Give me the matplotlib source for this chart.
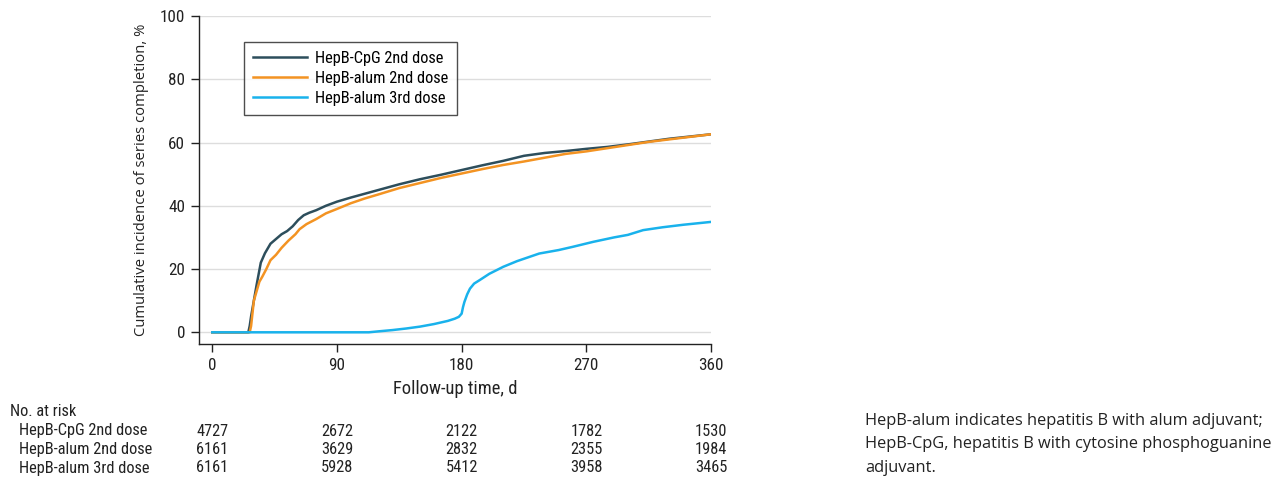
import matplotlib
matplotlib.use("Agg")
import matplotlib.pyplot as plt
from matplotlib.transforms import blended_transform_factory
from matplotlib import font_manager

names = {f.name for f in font_manager.fontManager.ttflist}
narrow = [n for n in ["Roboto Condensed", "Liberation Sans Narrow", "Open Sans Condensed"] if n in names]
COND = narrow + ['Liberation Sans', 'DejaVu Sans']
WIDE = ["Open Sans", "DejaVu Sans"]
plt.rcParams['font.family'] = COND

# ---- data ----
cpg_days = [0, 26, 27, 28, 30, 32, 35, 38, 42, 46, 50, 54, 58, 62, 66, 70, 75, 82, 90, 100,
            110, 120, 135, 150, 165, 180, 195, 210, 225, 240, 255, 270, 285, 300, 315, 330, 345, 360]
cpg_pct = [0, 0, 2, 5, 10, 15, 22, 25, 28, 29.5, 31, 32, 33.5, 35.5, 37, 37.8, 38.6, 40, 41.3, 42.6,
           43.8, 45, 46.8, 48.4, 49.8, 51.3, 52.8, 54.2, 55.8, 56.7, 57.3, 58, 58.6, 59.4, 60.3, 61.2, 61.9, 62.6]

alum2_days = [0, 27, 28, 29, 30, 32, 34, 36, 39, 42, 46, 50, 55, 60, 63, 68, 75, 82, 90, 100,
              110, 120, 135, 150, 165, 180, 195, 210, 225, 240, 255, 270, 285, 300, 315, 330, 345, 360]
alum2_pct = [0, 0, 2, 6, 10, 13, 16, 17.5, 20, 22.8, 24.5, 26.7, 29, 31, 32.6, 34.2, 35.8, 37.6, 39, 40.8,
             42.3, 43.6, 45.6, 47.2, 48.8, 50.2, 51.6, 52.9, 54, 55.2, 56.4, 57.2, 58.2, 59.2, 60.2, 61, 61.8, 62.6]

alum3_days = [0, 113, 120, 130, 140, 150, 160, 170, 175, 178, 180, 181, 182, 184, 186, 189, 193, 200,
              210, 220, 236, 250, 260, 275, 290, 300, 311, 325, 340, 360]
alum3_pct = [0, 0, 0.3, 0.7, 1.2, 1.8, 2.6, 3.6, 4.3, 4.9, 5.9, 8, 9.6, 12, 13.8, 15.4, 16.5, 18.5,
             20.7, 22.5, 24.9, 26, 27, 28.6, 30, 30.8, 32.3, 33.2, 34, 34.9]

series_labels = ["HepB-CpG 2nd dose", "HepB-alum 2nd dose", "HepB-alum 3rd dose"]
x_ticks = [0, 90, 180, 270, 360]
y_ticks = [0, 20, 40, 60, 80, 100]
at_risk = {
    "HepB-CpG 2nd dose": [4727, 2672, 2122, 1782, 1530],
    "HepB-alum 2nd dose": [6161, 3629, 2832, 2355, 1984],
    "HepB-alum 3rd dose": [6161, 5928, 5412, 3958, 3465],
}
caption = ("HepB-alum indicates hepatitis B with alum adjuvant;\n"
           "HepB-CpG, hepatitis B with cytosine phosphoguanine\n"
           "adjuvant.")

colors = ["#2D4E5C", "#F39322", "#19B2EC"]
TXT = "#222222"

W, H = 1287, 478
fig = plt.figure(figsize=(W / 100, H / 100), dpi=100)
renderer = fig.canvas.get_renderer()


def fit_size(s, target_px, family):
    t = fig.text(0, 0, s, fontsize=10, family=family)
    w = t.get_window_extent(renderer).width
    t.remove()
    return 10 * target_px / w


fs_tick = fit_size("180", 25, COND)
fs_xlab = fit_size("Follow-up time, d", 124, COND)
fs_ylab = fit_size("Cumulative incidence of series completion, %", 314, WIDE)
fs_leg = fit_size("HepB-CpG 2nd dose", 129, COND)
fs_tab = fs_leg
fs_cap = fit_size(caption.split("\n")[1], 408, WIDE)

ax = fig.add_axes([199 / W, 1 - 344 / H, (711 - 199) / W, (344 - 16) / H])

ax.plot(cpg_days, cpg_pct, color=colors[0], lw=1.8, label=series_labels[0], zorder=3)
ax.plot(alum2_days, alum2_pct, color=colors[1], lw=1.8, label=series_labels[1], zorder=3)
ax.plot(alum3_days, alum3_pct, color=colors[2], lw=1.8, label=series_labels[2], zorder=4)

ax.set_xlim(-9.6, 360)
ax.set_ylim(-3.7, 100)
ax.set_xticks(x_ticks)
ax.set_yticks(y_ticks)
ax.yaxis.grid(True, color="#dddddd", lw=1)
ax.set_axisbelow(True)
for s in ["top", "right"]:
    ax.spines[s].set_visible(False)
for s in ["left", "bottom"]:
    ax.spines[s].set_linewidth(1.0)
    ax.spines[s].set_color(TXT)
ax.tick_params(labelsize=fs_tick, length=6, width=1, color=TXT, labelcolor=TXT, pad=4)
ax.set_xlabel("Follow-up time, d", fontsize=fs_xlab, color=TXT, labelpad=5)
ax.set_ylabel("Cumulative incidence of series completion, %", fontsize=fs_ylab, color=TXT,
              labelpad=8, family=WIDE)

leg = ax.legend(loc="upper left", bbox_to_anchor=((244 - 199) / 512, 1 - (41.7 - 16) / 328),
                prop={"size": fs_leg, "family": COND}, frameon=True, fancybox=False,
                edgecolor=TXT, handlelength=3.3, handletextpad=0.45, borderpad=0.55,
                labelspacing=0.3, borderaxespad=0)
leg.get_frame().set_linewidth(1.0)

# number at risk table
tr = blended_transform_factory(ax.transData, fig.transFigure)
fig.text(10 / W, 1 - 412 / H, "No. at risk", fontsize=fs_tab, color=TXT, va="center", ha="left")
row_y = [431, 449.5, 468]
for lab, yy in zip(series_labels, row_y):
    fig.text(19 / W, 1 - yy / H, lab, fontsize=fs_tab, color=TXT, va="center", ha="left")
    for xt, v in zip(x_ticks, at_risk[lab]):
        ax.text(xt, 1 - yy / H, str(v), transform=tr, fontsize=fs_tab, color=TXT,
                va="center", ha="center", clip_on=False)

# caption
for line, base in zip(caption.split("\n"), [425, 448.5, 472]):
    fig.text(865 / W, 1 - base / H, line, fontsize=fs_cap, color=TXT, va="baseline",
             ha="left", family=WIDE)

fig.savefig("out.png", dpi=100)
